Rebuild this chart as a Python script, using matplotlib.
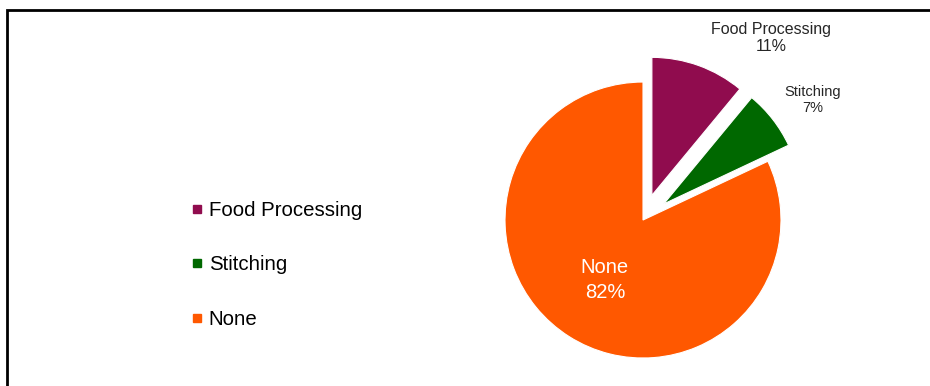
import numpy as np
import matplotlib.pyplot as plt
from matplotlib.patches import Rectangle
from matplotlib.lines import Line2D

plt.rcParams['font.family'] = ['Liberation Sans', 'DejaVu Sans']

# data
categories = ['Food Processing', 'Stitching', 'None']
shares = [11, 7, 82]
colors = ['#900C4E', '#006800', '#FF5800']
explode = [0.19, 0.19, 0.0]

# label placement for the two outside labels (data coords, radius = 1)
outside_pos = {'Food Processing': (0.93, 1.32), 'Stitching': (1.23, 0.87)}
outside_size = {'Food Processing': 11.5, 'Stitching': 10.5}


def main():
    fig = plt.figure(figsize=(9.3, 3.86), dpi=100)

    # frame around the chart (left and top edges visible)
    fig.patches.append(Rectangle((6.5 / 930, -0.1), 1.2, 1 - 10 / 386 + 0.1,
                                 transform=fig.transFigure, fill=False,
                                 edgecolor='black', linewidth=2, zorder=0))

    ax = fig.add_axes([0.454, -0.142, 0.4748, 1.144])
    wedges, texts = ax.pie(shares, colors=colors, explode=explode,
                           startangle=90, counterclock=False,
                           wedgeprops=dict(edgecolor='white', linewidth=0.8))
    ax.set_xlim(-1.6, 1.6)
    ax.set_ylim(-1.6, 1.6)
    ax.set_aspect('equal')
    ax.axis('off')
    for w in wedges:
        w.set_clip_on(False)

    for cat, val, w in zip(categories, shares, wedges):
        txt = f'{cat}\n{val}%'
        if cat in outside_pos:
            x, y = outside_pos[cat]
            ax.text(x, y, txt, ha='center', va='center',
                    fontsize=outside_size[cat], color='#262626',
                    linespacing=1.2)
        else:
            ang = np.deg2rad((w.theta1 + w.theta2) / 2)
            r = 0.515
            ax.text(r * np.cos(ang), r * np.sin(ang), txt, ha='center',
                    va='center', fontsize=14.5, color='white',
                    linespacing=1.35)

    handles = [Line2D([], [], marker='s', linestyle='none', markersize=6,
                      markerfacecolor=c, markeredgecolor=c) for c in colors]
    fig.legend(handles, categories, loc='center left',
               bbox_to_anchor=(181 / 930, 1 - 265 / 386), frameon=False,
               fontsize=14.7, handlelength=0.55, handletextpad=0.3,
               labelspacing=1.75, borderpad=0)

    fig.savefig('out.png', dpi=100, facecolor='white')


if __name__ == "__main__":
    main()
